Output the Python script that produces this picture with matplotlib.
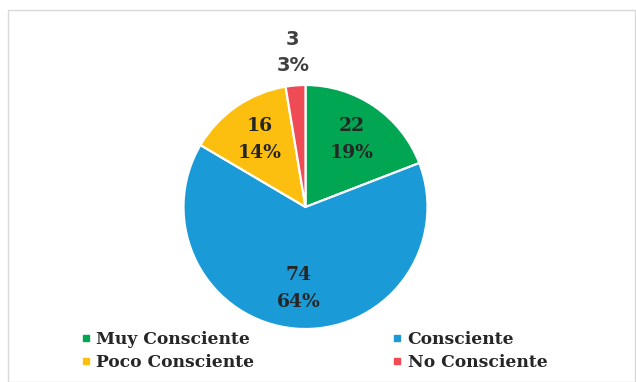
import matplotlib
matplotlib.use("Agg")
import matplotlib.pyplot as plt
import numpy as np
from matplotlib.patches import Rectangle
from matplotlib.lines import Line2D

categories = ["Muy Consciente", "Consciente", "Poco Consciente", "No Consciente"]
values = [22, 74, 16, 3]
colors = ["#00A651", "#1A9AD6", "#FDBF0F", "#EF4B55"]

W, H = 636, 382
fig = plt.figure(figsize=(W / 100, H / 100), dpi=100)
fig.patch.set_facecolor("white")

# light frame around the chart area
fig.add_artist(Rectangle((8 / W, 0), (W - 9) / W, (H - 9.5) / H, transform=fig.transFigure,
                         fill=False, edgecolor="#d9d9d9", linewidth=1.0))

cx, cy, r = 305.5, H - 207, 122
ax = fig.add_axes([(cx - r) / W, (cy - r) / H, 2 * r / W, 2 * r / H])
wedges, _ = ax.pie(values, colors=colors, startangle=90, counterclock=False,
                   wedgeprops=dict(edgecolor="white", linewidth=1.6))
ax.set_xlim(-1, 1)
ax.set_ylim(-1, 1)
ax.set_aspect("equal")
ax.axis("off")

total = sum(values)
for w, v in zip(wedges, values):
    mid = np.deg2rad((w.theta1 + w.theta2) / 2)
    pct = f"{round(100 * v / total)}%"
    if v / total < 0.05:
        d = 1.27
        ax.text(d * np.cos(mid), d * np.sin(mid), f"{v}\n{pct}", ha="center", va="center",
                fontsize=14, color="#404040", family="Liberation Sans Narrow",
                fontweight="bold", linespacing=1.5, clip_on=False)
    else:
        d = 0.67
        ax.text(d * np.cos(mid), d * np.sin(mid), f"{v}\n{pct}", ha="center", va="center",
                fontsize=13.5, color="#262626", family="DejaVu Serif", fontweight="bold",
                linespacing=1.6)

handles = [Line2D([], [], marker="s", linestyle="none", markersize=5,
                  markerfacecolor=c, markeredgecolor=c) for c in colors]
order = [0, 2, 1, 3]
leg = fig.legend([handles[i] for i in order], [categories[i] for i in order],
                 ncol=2, loc="upper left", bbox_to_anchor=(65 / W, 1 - 316 / H),
                 frameon=False, handlelength=0.6, handletextpad=0.3,
                 columnspacing=8.1, labelspacing=0.35,
                 prop=dict(family="DejaVu Serif", weight="bold", size=12.3))
for t in leg.get_texts():
    t.set_color("#262626")

fig.savefig("out.png", dpi=100, facecolor="white")
